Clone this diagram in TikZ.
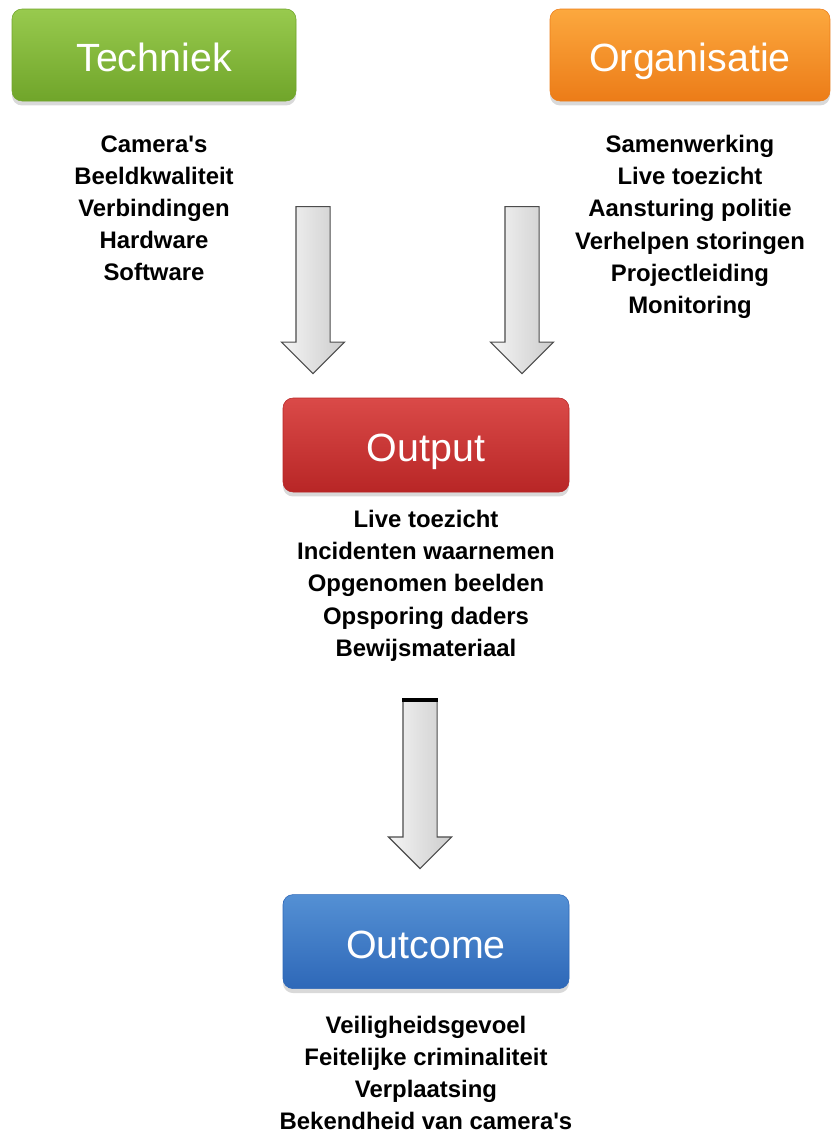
\documentclass[tikz,border=0pt]{standalone}
\usepackage{fontspec}
\setmainfont{Liberation Sans}
\usetikzlibrary{positioning, shapes.arrows, shadows}
\definecolor{techtop}{RGB}{152,202,78}
\definecolor{techbot}{RGB}{112,165,42}
\definecolor{orgtop}{RGB}{252,168,62}
\definecolor{orgbot}{RGB}{236,124,24}
\definecolor{outtop}{RGB}{218,74,72}
\definecolor{outbot}{RGB}{184,38,38}
\definecolor{restop}{RGB}{84,144,212}
\definecolor{resbot}{RGB}{46,104,184}
\tikzset{
  stage/.style={
    rectangle, rounded corners=0.25cm, minimum width=7.1cm, minimum height=2.3cm,
    text centered, text=white, font=\fontsize{28}{32}\selectfont,
    text height=0.82cm, text depth=0cm,
    drop shadow={shadow xshift=0ex,shadow yshift=-0.6ex,opacity=0.3}
  },
  items/.style={
    align=center, inner sep=0pt, font=\bfseries\fontsize{17}{22.8}\selectfont
  },
  flow/.style={
    single arrow, draw=gray!60!black, line width=0.8pt, left color=gray!8, right color=gray!40,
    inner xsep=0.4125cm, inner ysep=0pt, single arrow head extend=0.3625cm,
    single arrow head indent=0pt, minimum height=4.175cm, minimum width=1.55cm,
    shape border rotate=270
  }
}

\begin{document}
\begin{tikzpicture}
\useasboundingbox (0,0) rectangle (20.75,-28.375);

% Bovenste blokken
\node[stage, top color=techtop, bottom color=techbot, draw=techbot] (techniek) at (3.85,-1.375) {Techniek};
\node[stage, top color=orgtop, bottom color=orgbot, draw=orgbot, minimum width=7cm] (organisatie) at (17.25,-1.375) {Organisatie};

\node[items, below=0.85cm of techniek] (techlist) {Camera\textquotesingle s\\Beeldkwaliteit\\Verbindingen\\Hardware\\Software};
\node[items, below=0.85cm of organisatie] (orglist) {Samenwerking\\Live toezicht\\Aansturing politie\\Verhelpen storingen\\Projectleiding\\Monitoring};

\node[flow] (techarrow) at (7.825,-7.04) {};
\node[flow] (orgarrow) at (13.05,-7.04) {};

% Output
\node[stage, top color=outtop, bottom color=outbot, draw=outbot, minimum width=7.15cm, minimum height=2.35cm] (output) at (10.65,-11.125) {Output};
\node[items, below=0.45cm of output] (outlist) {Live toezicht\\Incidenten waarnemen\\Opgenomen beelden\\Opsporing daders\\Bewijsmateriaal};

\node[flow, minimum height=4.2cm] (outarrow) at (10.5,-19.4) {};
\draw[line width=2.6pt] (outarrow.before tail) -- (outarrow.after tail);

% Outcome
\node[stage, top color=restop, bottom color=resbot, draw=resbot, minimum width=7.15cm, minimum height=2.35cm] (outcome) at (10.65,-23.54) {Outcome};
\node[items, below=0.68cm of outcome] (reslist) {Veiligheidsgevoel\\Feitelijke criminaliteit\\Verplaatsing\\Bekendheid van camera\textquotesingle s};

\end{tikzpicture}
\end{document}
